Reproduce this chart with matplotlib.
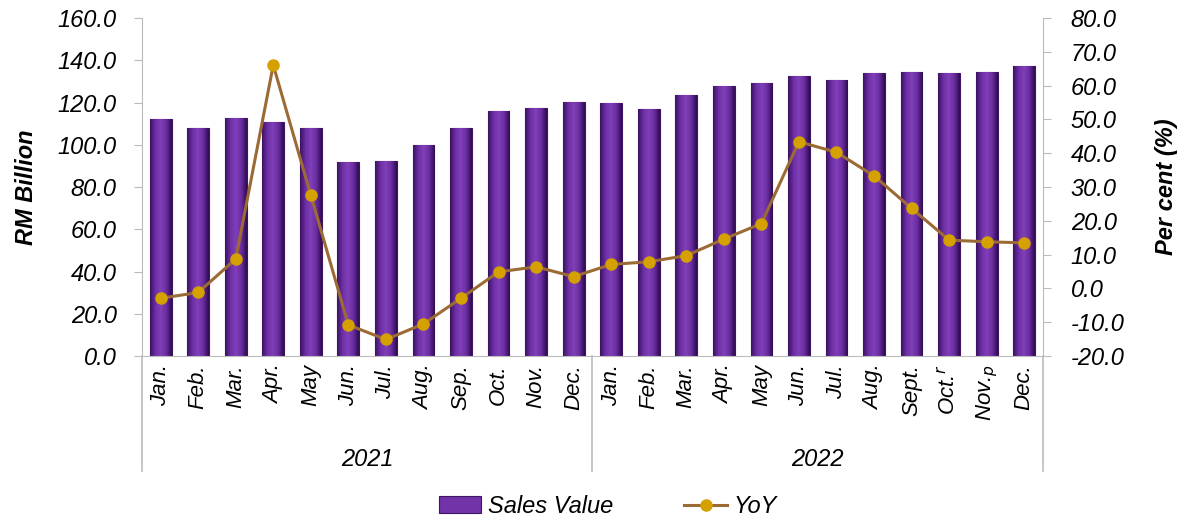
import matplotlib.pyplot as plt
import matplotlib.transforms as mtransforms
from matplotlib.colors import LinearSegmentedColormap
import numpy as np

plt.rcParams['font.family'] = ['Liberation Sans', 'DejaVu Sans']

months = ['Jan.', 'Feb.', 'Mar.', 'Apr.', 'May', 'Jun.', 'Jul.', 'Aug.', 'Sep.', 'Oct.', 'Nov.', 'Dec.',
          'Jan.', 'Feb.', 'Mar.', 'Apr.', 'May', 'Jun.', 'Jul.', 'Aug.', 'Sept.', 'Oct.$^{r}$', 'Nov.$_{p}$', 'Dec.']
years = ['2021', '2022']
sales = [112.0, 108.1, 112.8, 110.9, 108.1, 91.8, 92.3, 99.9, 108.1, 116.1, 117.5, 120.4,
         119.9, 117.1, 123.7, 128.0, 129.4, 132.7, 130.5, 133.8, 134.3, 133.8, 134.3, 137.1]
yoy = [-2.9, -1.2, 8.7, 66.1, 27.6, -10.8, -15.1, -10.5, -2.9, 4.9, 6.4, 3.5,
       7.1, 7.9, 9.7, 14.6, 19.2, 43.4, 40.3, 33.3, 23.7, 14.3, 13.8, 13.5]

fig = plt.figure(figsize=(11.92, 5.16), dpi=100)
ax = fig.add_axes([0.119, 0.31, 0.756, 0.655])
ax2 = ax.twinx()

x = np.arange(len(months))
bars = ax.bar(x, sales, width=0.58, color='#7232A8', edgecolor='#3E1565', linewidth=0.8,
              label='Sales Value', zorder=2)

# cylinder-like shading on each bar
cyl = LinearSegmentedColormap.from_list('cyl', ['#3A1262', '#6E2FA6', '#8040B8', '#6A2CA0', '#2E0C50'])
grad = np.linspace(0, 1, 64).reshape(1, -1)
for b in bars:
    bx, bw, bh = b.get_x(), b.get_width(), b.get_height()
    im = ax.imshow(grad, cmap=cyl, aspect='auto', extent=[bx, bx + bw, 0, bh], zorder=2.1)
    im.set_clip_path(b)

ln, = ax2.plot(x, yoy, color='#9C6B35', linewidth=2.2, marker='o', markersize=8,
               markerfacecolor='#D4A100', markeredgecolor='#D4A100', label='YoY', zorder=3)

ax.set_xlim(-0.5, len(months) - 0.5)
ax.set_ylim(0, 160)
ax2.set_ylim(-20, 80)
ax.set_yticks(np.arange(0, 161, 20))
ax2.set_yticks(np.arange(-20, 81, 10))
ax.set_yticklabels(['%.1f' % v for v in np.arange(0, 161, 20)], fontsize=17, style='italic')
ax2.set_yticklabels(['%.1f' % v for v in np.arange(-20, 81, 10)], fontsize=17, style='italic')

ax.set_xticks(x)
ax.set_xticklabels(months, rotation=90, fontsize=16, style='italic')
ax.tick_params(axis='x', length=0, pad=6)
ax.tick_params(axis='y', length=6, color='#BBBBBB', pad=12)
ax2.tick_params(axis='y', length=6, color='#BBBBBB', pad=14)

for a in (ax, ax2):
    a.spines['top'].set_visible(False)
    for s in ('left', 'right', 'bottom'):
        a.spines[s].set_color('#BBBBBB')
ax.spines['right'].set_visible(False)
ax2.spines['left'].set_visible(False)
ax2.spines['bottom'].set_visible(False)

ax.set_ylabel('RM Billion', fontsize=17, style='italic', fontweight='bold', labelpad=14)
ax2.set_ylabel('Per cent (%)', fontsize=17, style='italic', fontweight='bold', labelpad=22)

# year groups under the month labels
trans = mtransforms.blended_transform_factory(ax.transData, ax.transAxes)
for i, yr in enumerate(years):
    ax.text(i * 12 + 5.5, -0.305, yr, transform=trans, ha='center', va='center',
            fontsize=17, style='italic')
for b in (-0.5, 11.5, 23.5):
    ax.plot([b, b], [0, -0.34], transform=trans, color='#BBBBBB', linewidth=1.2, clip_on=False)

fig.legend([bars, ln], ['Sales Value', 'YoY'], loc='lower center', bbox_to_anchor=(0.51, -0.045),
           ncol=2, frameon=False, prop={'size': 17, 'style': 'italic'}, handlelength=1.8,
           columnspacing=3.0, handletextpad=0.3)

fig.savefig('out.png', dpi=100)
